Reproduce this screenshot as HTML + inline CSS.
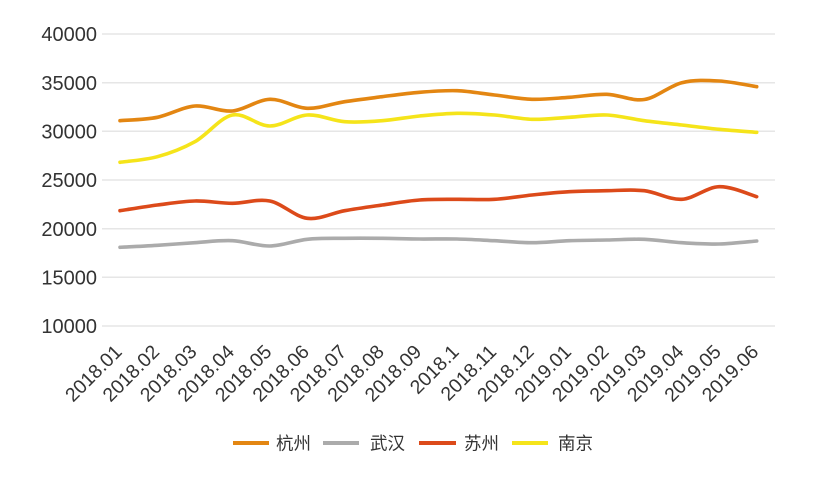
<!DOCTYPE html>
<html><head><meta charset="utf-8">
<style>
html,body{margin:0;padding:0;background:#fff;}
svg{display:block;}
text{font-family:"Liberation Sans","Noto Sans CJK SC",sans-serif;fill:#333;}
</style></head>
<body>
<svg id="c" width="821" height="497" viewBox="0 0 821 497" xmlns="http://www.w3.org/2000/svg">
<g stroke="#e6e6e6" stroke-width="1.5">
<line x1="102" y1="34" x2="775" y2="34"/>
<line x1="102" y1="82.7" x2="775" y2="82.7"/>
<line x1="102" y1="131.3" x2="775" y2="131.3"/>
<line x1="102" y1="180" x2="775" y2="180"/>
<line x1="102" y1="228.7" x2="775" y2="228.7"/>
<line x1="102" y1="277.3" x2="775" y2="277.3"/>
<line x1="102" y1="326" x2="775" y2="326"/>
</g>
<g font-size="20" text-anchor="end">
<text x="97" y="41.2">40000</text>
<text x="97" y="89.9">35000</text>
<text x="97" y="138.5">30000</text>
<text x="97" y="187.2">25000</text>
<text x="97" y="235.9">20000</text>
<text x="97" y="284.5">15000</text>
<text x="97" y="333.2">10000</text>
</g>
<g fill="none" stroke-linecap="round" stroke-linejoin="round" stroke-width="3.6">
<path id="s2" stroke="#ababab" d=""/>
<path id="s3" stroke="#dc4a1a" d=""/>
<path id="s4" stroke="#f5e41a" d=""/>
<path id="s1" stroke="#e38612" d=""/>
</g>
<g stroke-width="4">
<line x1="233" y1="443" x2="269" y2="443" stroke="#e38612"/>
<line x1="323" y1="443" x2="359" y2="443" stroke="#ababab"/>
<line x1="419" y1="443" x2="456" y2="443" stroke="#dc4a1a"/>
<line x1="512" y1="443" x2="548" y2="443" stroke="#f5e41a"/>
</g>
<g font-size="17.5">
<text x="276" y="449.5">杭州</text>
<text x="370" y="449.5">武汉</text>
<text x="464" y="449.5">苏州</text>
<text x="558" y="449.5">南京</text>
</g>
<g id="xls" font-size="19.5" text-anchor="end">
<text transform="translate(123,353) rotate(-45)">2018.01</text>
<text transform="translate(160.5,353) rotate(-45)">2018.02</text>
<text transform="translate(197.9,353) rotate(-45)">2018.03</text>
<text transform="translate(235.4,353) rotate(-45)">2018.04</text>
<text transform="translate(272.8,353) rotate(-45)">2018.05</text>
<text transform="translate(310.3,353) rotate(-45)">2018.06</text>
<text transform="translate(347.7,353) rotate(-45)">2018.07</text>
<text transform="translate(385.2,353) rotate(-45)">2018.08</text>
<text transform="translate(422.6,353) rotate(-45)">2018.09</text>
<text transform="translate(460.1,353) rotate(-45)">2018.1</text>
<text transform="translate(497.5,353) rotate(-45)">2018.11</text>
<text transform="translate(535,353) rotate(-45)">2018.12</text>
<text transform="translate(572.4,353) rotate(-45)">2019.01</text>
<text transform="translate(609.9,353) rotate(-45)">2019.02</text>
<text transform="translate(647.3,353) rotate(-45)">2019.03</text>
<text transform="translate(684.8,353) rotate(-45)">2019.04</text>
<text transform="translate(722.2,353) rotate(-45)">2019.05</text>
<text transform="translate(759.7,353) rotate(-45)">2019.06</text>
</g>
</svg>
<script>
(function(){
var data={
s1:[120.7,117.3,106,111,99.3,108.3,101.7,96.7,92.3,90.7,95,99.3,97.3,94.3,99.5,82.7,81,86.7],
s2:[247.3,245.3,242.7,240.7,246,239.3,238.3,238.3,239,239,240.7,242.7,240.7,240,239.3,242.7,244,241],
s3:[210.7,205,201,203.3,201,218.3,210.7,205,200,199.3,199.3,195,191.7,190.7,190.7,199.3,186.7,196.7],
s4:[162.3,156.7,141.7,115,126,115,121.7,120.7,116,113.3,115,119.3,117.3,115,120.7,125,129.3,132.3]
};
function X(i){return 120+37.45*i;}
for(var k in data){
  var ys=data[k],pts=[];
  for(var i=0;i<ys.length;i++)pts.push([X(i),ys[i]]);
  var d="M"+pts[0][0].toFixed(1)+","+pts[0][1].toFixed(1);
  var t=0.5/3;
  for(var i=0;i<pts.length-1;i++){
    var p0=pts[i-1]||pts[i],p1=pts[i],p2=pts[i+1],p3=pts[i+2]||pts[i+1];
    var c1x=p1[0]+(p2[0]-p0[0])*t,c1y=p1[1]+(p2[1]-p0[1])*t;
    var c2x=p2[0]-(p3[0]-p1[0])*t,c2y=p2[1]-(p3[1]-p1[1])*t;
    d+=" C"+c1x.toFixed(1)+","+c1y.toFixed(1)+" "+c2x.toFixed(1)+","+c2y.toFixed(1)+" "+p2[0].toFixed(1)+","+p2[1].toFixed(1);
  }
  document.getElementById(k).setAttribute("d",d);
}
})();
</script>
</body></html>
